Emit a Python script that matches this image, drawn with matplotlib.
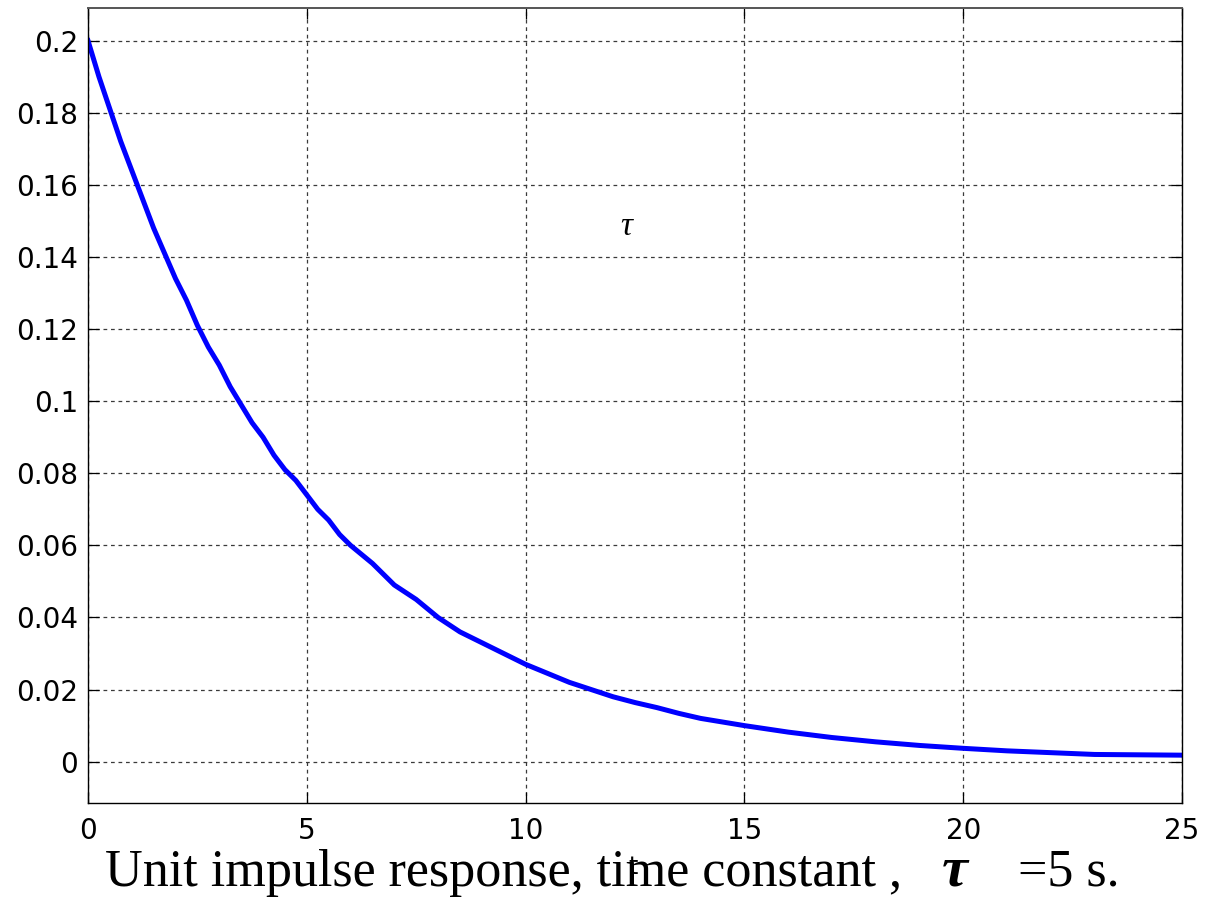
import matplotlib
matplotlib.use("Agg")
import matplotlib.pyplot as plt

# Data
t = [0, 0.25, 0.5, 0.75, 1, 1.25, 1.5, 1.75, 2, 2.25, 2.5, 2.75, 3, 3.25, 3.5, 3.75,
     4, 4.25, 4.5, 4.75, 5, 5.25, 5.5, 5.75, 6, 6.5, 7, 7.5, 8, 8.5, 9, 9.5, 10, 10.5,
     11, 11.5, 12, 12.5, 13, 13.5, 14, 15, 16, 17, 18, 19, 20, 21, 22, 23, 24, 25]
h = [0.200, 0.190, 0.181, 0.172, 0.164, 0.156, 0.148, 0.141, 0.134, 0.128, 0.121,
     0.115, 0.110, 0.104, 0.099, 0.094, 0.090, 0.085, 0.081, 0.078, 0.074, 0.070,
     0.067, 0.063, 0.060, 0.055, 0.049, 0.045, 0.040, 0.036, 0.033, 0.030, 0.027,
     0.0245, 0.022, 0.020, 0.018, 0.0164, 0.015, 0.0134, 0.012, 0.010, 0.0082,
     0.0067, 0.0055, 0.0045, 0.0037, 0.0030, 0.0025, 0.0020, 0.0019, 0.0018]
xticks = [0, 5, 10, 15, 20, 25]
yticks = [0, 0.02, 0.04, 0.06, 0.08, 0.1, 0.12, 0.14, 0.16, 0.18, 0.2]
yticklabels = ["0", "0.02", "0.04", "0.06", "0.08", "0.1", "0.12", "0.14", "0.16", "0.18", "0.2"]

W, H = 1205, 898
fig = plt.figure(figsize=(W / 100, H / 100), dpi=100)
left, right, top, bottom = 88, 1182, 7.5, 803.3
ax = fig.add_axes([left / W, 1 - bottom / H, (right - left) / W, (bottom - top) / H])

ax.plot(t, h, color=(0, 0, 1), lw=3.6, solid_joinstyle="round")
ax.set_xlim(0, 25)
ax.set_ylim(-0.01155, 0.2092)
ax.set_xticks(xticks)
ax.set_xticklabels([str(v) for v in xticks])
ax.set_yticks(yticks)
ax.set_yticklabels(yticklabels)

ax.grid(True, color="#3a3a3a", lw=0.9, linestyle=(0, (3.0, 3.0)))
ax.tick_params(direction="in", length=8, width=0.9, top=True, right=True,
               labelsize=20, colors="black")
ax.tick_params(axis="x", pad=10)
ax.tick_params(axis="y", pad=7)
for lab in ax.get_xticklabels() + ax.get_yticklabels():
    lab.set_family("DejaVu Sans")
for s in ax.spines.values():
    s.set_linewidth(1.0)
    s.set_color("black")
ax.spines["top"].set_color("#555555")
ax.spines["top"].set_linewidth(1.4)

# in-plot tau
ax.text(12.3, 0.1485, "τ", family="Liberation Serif", style="italic",
        fontsize=24, ha="center", va="center")

def fx(px):
    return px / W

def fy(py):
    return 1 - py / H

fig.text(fx(105), fy(886), "Unit impulse response, time constant ,",
         family="Liberation Serif", fontsize=37.5, va="baseline", ha="left")
fig.text(fx(942), fy(885), "τ", family="Liberation Serif", style="italic",
         weight="bold", fontsize=42, va="baseline", ha="left")
fig.text(fx(1018), fy(886), "=5 s.", family="Liberation Serif", fontsize=37.5,
         va="baseline", ha="left")
fig.text(fx(633), fy(855), "t", family="DejaVu Sans", fontsize=17,
         va="top", ha="center")

fig.savefig("out.png", dpi=100, facecolor="white")
